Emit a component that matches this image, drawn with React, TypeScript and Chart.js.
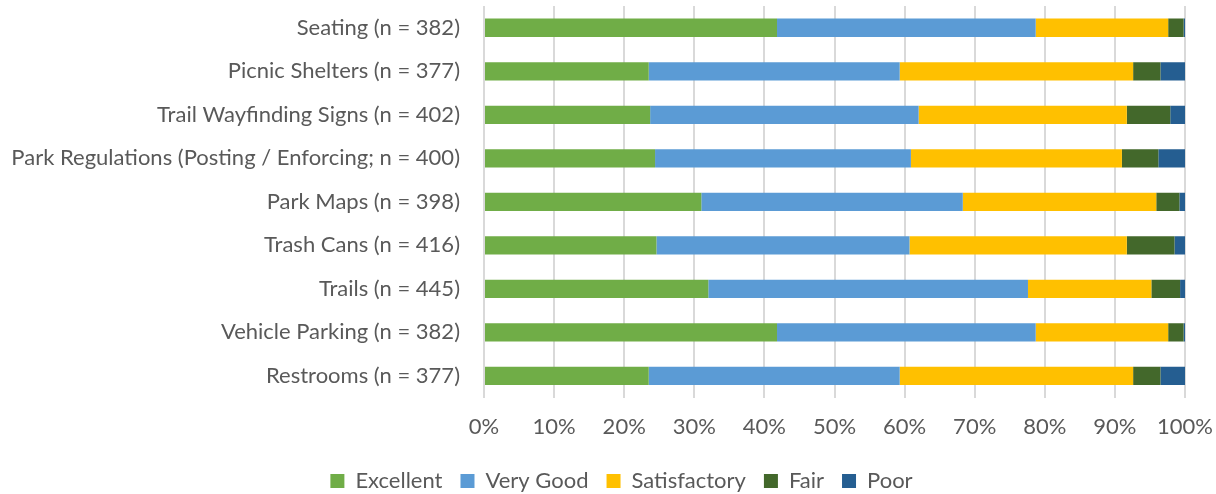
import React, { useEffect, useRef } from "react";
import { Chart, registerables } from "chart.js";

Chart.register(...registerables);

const categories = [
  "Seating (n = 382)",
  "Picnic Shelters (n = 377)",
  "Trail Wayfinding Signs (n = 402)",
  "Park Regulations (Posting / Enforcing; n = 400)",
  "Park Maps (n = 398)",
  "Trash Cans (n = 416)",
  "Trails (n = 445)",
  "Vehicle Parking (n = 382)",
  "Restrooms (n = 377)",
];

const excellent = [41.8, 23.5, 23.7, 24.4, 31.0, 24.6, 32.0, 41.8, 23.5];
const veryGood = [36.9, 35.8, 38.3, 36.5, 37.3, 36.1, 45.6, 36.9, 35.8];
const satisfactory = [18.9, 33.3, 29.7, 30.1, 27.6, 31.0, 17.6, 18.9, 33.3];
const fair = [2.2, 3.9, 6.2, 5.2, 3.3, 6.8, 4.1, 2.2, 3.9];
const poor = [0.2, 3.5, 2.1, 3.8, 0.8, 1.5, 0.7, 0.2, 3.5];

const seriesNames = ["Excellent", "Very Good", "Satisfactory", "Fair", "Poor"];
const seriesColors = ["#70ad47", "#5b9bd5", "#ffc000", "#43682b", "#255e91"];

const FONT = "Lato, sans-serif";
const TEXT = "#595959";

const shiftLegend = {
  id: "shiftLegend",
  afterLayout(chart: any) {
    const l = chart.legend;
    if (l) {
      l.left += 13.5;
      l.right += 13.5;
      l.top -= 4;
      l.bottom -= 4;
    }
  },
};

export default function App() {
  const ref = useRef<HTMLCanvasElement>(null);
  useEffect(() => {
    document.body.style.margin = "0";
    const values = [excellent, veryGood, satisfactory, fair, poor];
    const chart = new Chart(ref.current!, {
      type: "bar",
      data: {
        labels: categories,
        datasets: seriesNames.map((name, i) => ({
          label: name,
          data: values[i],
          backgroundColor: seriesColors[i],
          borderWidth: 0,
          barPercentage: 0.42,
          categoryPercentage: 1,
        })),
      },
      plugins: [shiftLegend],
      options: {
        indexAxis: "y",
        animation: false,
        responsive: false,
        maintainAspectRatio: false,
        layout: { padding: { top: 6, right: 0, left: 0, bottom: -12 } },
        plugins: {
          legend: {
            position: "bottom",
            labels: {
              font: { family: FONT, size: 22 },
              color: TEXT,
              boxWidth: 14,
              boxHeight: 14,
              padding: 18,
            },
          },
          tooltip: { enabled: false },
        },
        scales: {
          x: {
            stacked: true,
            min: 0,
            max: 100,
            afterFit: (s: any) => {
              s.paddingRight = 31;
            },
            ticks: {
              stepSize: 10,
              callback: (v: any) => v + "%",
              font: { family: FONT, size: 22 },
              color: TEXT,
              padding: 16,
              maxRotation: 0,
            },
            grid: { color: "#d9d9d9", lineWidth: 2, drawTicks: false },
            border: { display: false },
          },
          y: {
            stacked: true,
            afterFit: (s: any) => {
              s.paddingTop = 0;
              s.paddingBottom = 0;
              s.width = 484;
            },
            ticks: {
              font: { family: FONT, size: 22 },
              color: TEXT,
              padding: 24,
              autoSkip: false,
            },
            grid: { display: false, drawTicks: false },
            border: { display: false },
          },
        },
      },
    });
    return () => chart.destroy();
  }, []);
  return (
    <div style={{ width: 1216, height: 494 }}>
      <canvas ref={ref} width={1216} height={494} />
    </div>
  );
}
